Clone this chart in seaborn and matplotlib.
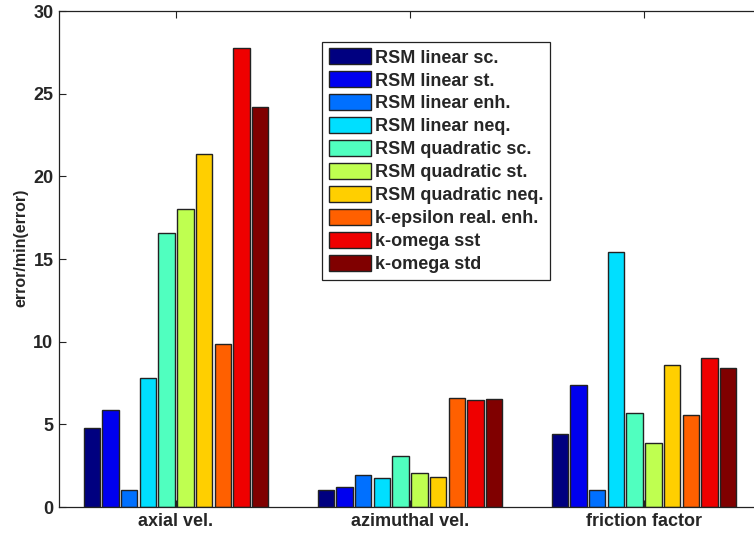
import matplotlib
matplotlib.use("Agg")
import matplotlib.pyplot as plt
import numpy as np
import pandas as pd
import seaborn as sns

# 데이터
groups = ["axial vel.", "azimuthal vel.", "friction factor"]
models = ["RSM linear sc.", "RSM linear st.", "RSM linear enh.", "RSM linear neq.",
          "RSM quadratic sc.", "RSM quadratic st.", "RSM quadratic neq.",
          "k-epsilon real. enh.", "k-omega sst", "k-omega std"]
axial = [4.76, 5.87, 1.03, 7.78, 16.55, 18.05, 21.33, 9.84, 27.74, 24.2]
azimuthal = [1.03, 1.23, 1.95, 1.77, 3.08, 2.07, 1.83, 6.61, 6.49, 6.55]
friction = [4.43, 7.36, 1.03, 15.43, 5.67, 3.87, 8.59, 5.55, 9.03, 8.41]
yticks = [0, 5, 10, 15, 20, 25, 30]

# MATLAB jet(64) 에서 10개 샘플
colors = ["#000080", "#0000EF", "#0070FF", "#00DFFF", "#50FFBF",
          "#BFFF50", "#FFCF00", "#FF6000", "#EF0000", "#800000"]

rows = []
for g, vals in zip(groups, [axial, azimuthal, friction]):
    for m, v in zip(models, vals):
        rows.append({"metric": g, "model": m, "value": v})
df = pd.DataFrame(rows)

sns.set_style("ticks")
plt.rcParams["font.family"] = ["Liberation Sans", "DejaVu Sans"]
plt.rcParams["font.weight"] = "bold"

fig = plt.figure(figsize=(7.54, 5.36), dpi=100)
ax = fig.add_axes([59 / 754, 29 / 536, 702 / 754, 496 / 536])

sns.barplot(data=df, x="metric", y="value", hue="model", order=groups, hue_order=models,
            palette=colors, saturation=1, width=0.8, gap=0.13,
            edgecolor="#222222", linewidth=1, ax=ax, legend=True)

ax.set_xlim(-0.5, 2.5)
ax.set_ylim(0, 30)
ax.set_yticks(yticks)
ax.set_yticklabels([str(t) for t in yticks], fontsize=13, fontweight="bold")
ax.set_xticks(range(len(groups)))
ax.set_xticklabels(groups, fontsize=13, fontweight="bold")
ax.set_xlabel("")
ax.set_ylabel("error/min(error)", fontsize=11.5, fontweight="bold")
ax.yaxis.set_label_coords(-0.043, 0.522)
ax.tick_params(direction="in", length=5, width=0.8, top=True, right=True,
               color="#222222", pad=4)
for s in ax.spines.values():
    s.set_visible(True)
    s.set_color("#222222")
    s.set_linewidth(0.9)

handles, labels = ax.get_legend_handles_labels()
ax.legend(handles, labels, loc="upper left", bbox_to_anchor=(0.375, 0.9375),
          borderaxespad=0, fancybox=False, framealpha=1, edgecolor="#222222",
          prop={"size": 13, "weight": "bold"}, handlelength=2.33, handleheight=1.0,
          handletextpad=0.25, labelspacing=0.26, borderpad=0.35)
ax.get_legend().get_frame().set_linewidth(0.9)

plt.savefig("out.png", dpi=100)
plt.close()
